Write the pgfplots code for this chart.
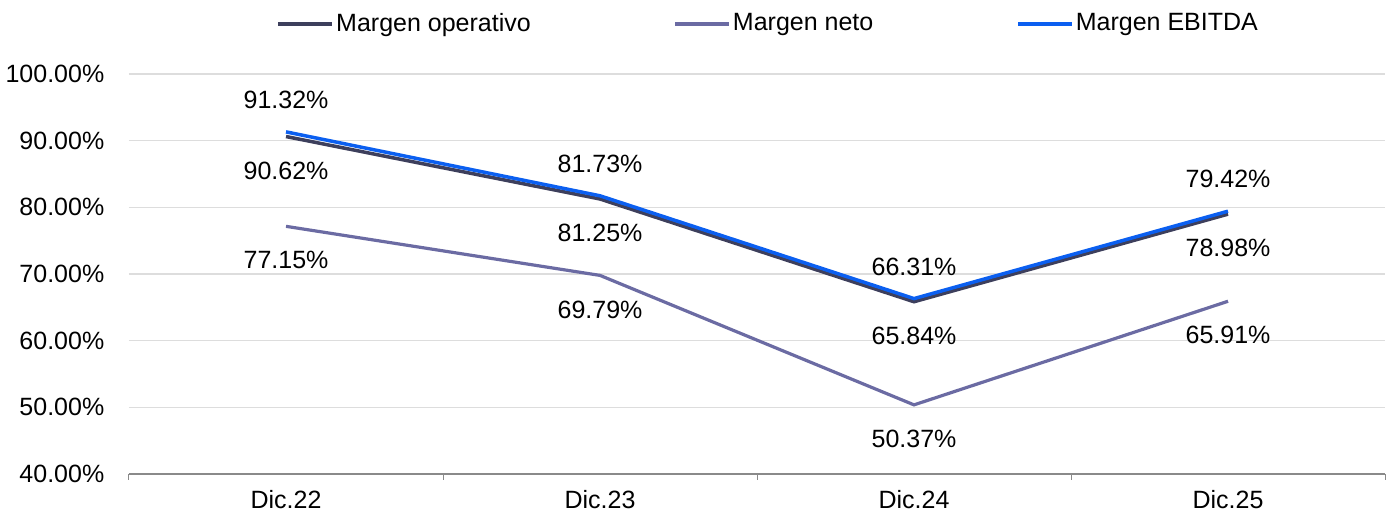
\documentclass[border=0pt]{standalone}
\usepackage{pgfplots}
\pgfplotsset{compat=1.18}
\usepackage{fontspec}
\setmainfont{Liberation Sans}
\definecolor{opcol}{HTML}{3D3F5C}
\definecolor{netcol}{HTML}{6B6BA3}
\definecolor{ebcol}{HTML}{0B5FF0}
\definecolor{gridcol}{HTML}{DDDDDD}
\definecolor{axcol}{HTML}{8A8A8A}
\begin{document}
\fontsize{12.5}{15}\selectfont
\begin{tikzpicture}
\useasboundingbox (-64.5pt,-22pt) rectangle (630.5pt,237pt);
\begin{axis}[
  scale only axis, width=628pt, height=200pt,
  xmin=-0.5, xmax=3.5, ymin=40, ymax=100,
  /pgf/number format/assume math mode=true,
  font=\fontsize{12.5}{15}\selectfont,
  axis x line*=bottom, axis y line*=left,
  y axis line style={draw=none},
  x axis line style={draw=axcol, line width=0.6pt},
  xtick={0,1,2,3}, xticklabels={Dic.22,Dic.23,Dic.24,Dic.25},
  minor xtick={-0.5,0.5,1.5,2.5,3.5},
  major tick length=0pt, minor tick length=3pt,
  tick align=outside,
  minor tick style={draw=axcol, line width=0.5pt},
  ytick={40,50,...,100},
  ytick style={draw=none},
  yticklabel={\pgfmathprintnumber[fixed,fixed zerofill,precision=2]{\tick}\%},
  yticklabel style={xshift=-8pt},
  xticklabel style={yshift=-4pt},
  ymajorgrids, major grid style={draw=gridcol, line width=0.6pt},
  clip=false,
  nodes near coords={\pgfmathprintnumber[fixed,fixed zerofill,precision=2]{\pgfplotspointmeta}\%},
  legend columns=3,
  legend style={at={(0.509,1.125)}, anchor=center, draw=none, fill=none,
    font=\fontsize{12.5}{15}\selectfont,
    /tikz/every even column/.append style={column sep=70.5pt},
    nodes={inner sep=1pt}},
  legend image code/.code={\draw[#1] (0pt,0pt) -- (27pt,0pt);},
]
\addplot[opcol, line width=1.75pt, mark=none,
  every node near coord/.append style={anchor=center, yshift=-17pt, text=black}]
  coordinates {(0,90.62) (1,81.25) (2,65.84) (3,78.98)};
\addlegendentry{Margen operativo}
\addplot[netcol, line width=1.6pt, mark=none,
  every node near coord/.append style={anchor=center, yshift=-17pt, text=black}]
  coordinates {(0,77.15) (1,69.79) (2,50.37) (3,65.91)};
\addlegendentry{Margen neto}
\addplot[ebcol, line width=1.75pt, mark=none,
  every node near coord/.append style={anchor=center, yshift=16pt, text=black}]
  coordinates {(0,91.32) (1,81.73) (2,66.31) (3,79.42)};
\addlegendentry{Margen EBITDA}
\end{axis}
\end{tikzpicture}
\end{document}
